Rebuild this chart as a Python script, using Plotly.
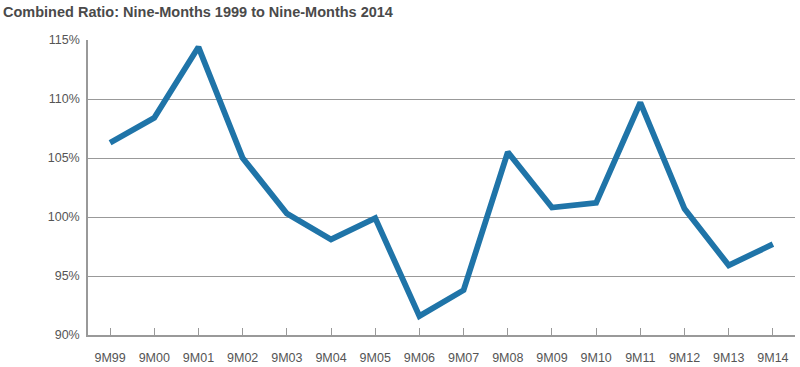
import plotly.graph_objects as go

categories = ["9M99", "9M00", "9M01", "9M02", "9M03", "9M04", "9M05", "9M06",
              "9M07", "9M08", "9M09", "9M10", "9M11", "9M12", "9M13", "9M14"]
combined_ratio = [106.3, 108.4, 114.4, 105.0, 100.3, 98.1, 99.9, 91.6,
                  93.8, 105.5, 100.8, 101.2, 109.7, 100.7, 95.9, 97.7]
y_ticks = [90, 95, 100, 105, 110, 115]
y_tick_labels = ["90%", "95%", "100%", "105%", "110%", "115%"]

fig = go.Figure()
fig.add_trace(go.Scatter(
    x=categories, y=combined_ratio, mode="lines",
    line=dict(color="#1f74a8", width=5.8),
    hoverinfo="x+y",
))

fig.update_layout(
    width=800, height=367,
    margin=dict(l=88, r=5, t=40, b=32, autoexpand=False),
    paper_bgcolor="white", plot_bgcolor="white",
    showlegend=False,
    font=dict(family="Liberation Sans, Arial, sans-serif", color="#555555", size=12),
    title=dict(
        text="<b>Combined Ratio: Nine-Months 1999 to Nine-Months 2014</b>",
        xref="container", x=0, xanchor="left", y=0.967, yanchor="middle",
        pad=dict(l=3, t=0, b=0, r=0),
        font=dict(size=14.5, color="#4a4a4a"),
    ),
)
fig.update_xaxes(
    type="category", range=[-0.5, 15.5], automargin=False,
    showline=True, linecolor="#999999", linewidth=1.5,
    ticks="inside", ticklen=7, tickcolor="#999999", tickwidth=1,
    showgrid=False, ticklabelstandoff=10,
    tickfont=dict(size=12.5, color="#555555"),
)
fig.update_yaxes(
    range=[90, 115], tickvals=y_ticks, ticktext=y_tick_labels, automargin=False,
    showline=True, linecolor="#999999", linewidth=1.5,
    showgrid=True, gridcolor="#999999", gridwidth=1,
    ticks="", zeroline=False, ticklabelstandoff=4,
    tickfont=dict(size=12.5, color="#555555"),
)

fig.write_html("out.html", config={"displayModeBar": False},
               post_script="document.body.style.margin='0';")
